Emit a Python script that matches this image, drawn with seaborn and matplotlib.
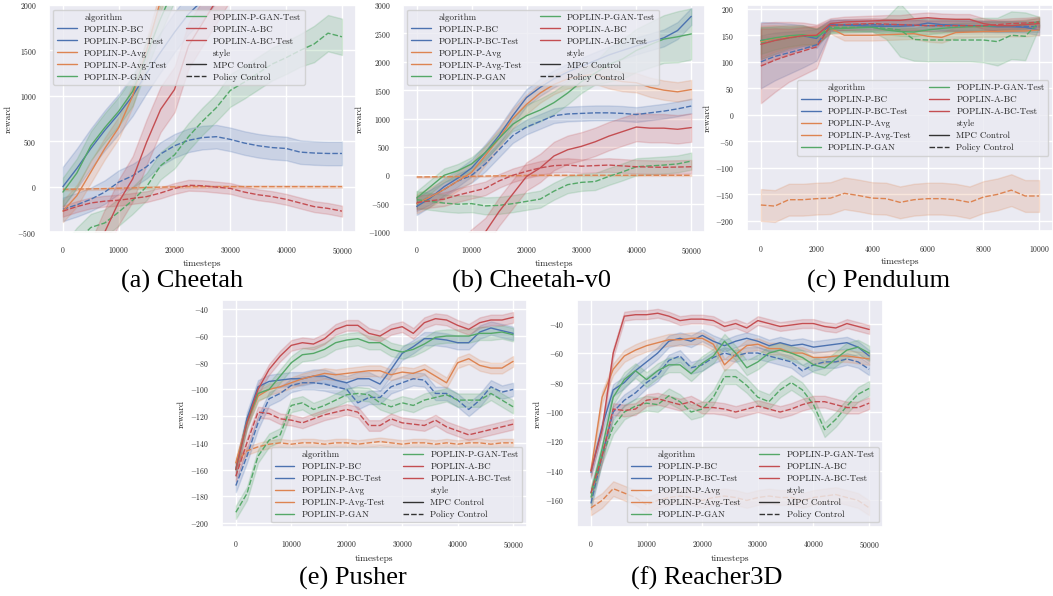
import numpy as np
import pandas as pd
import matplotlib
matplotlib.use('Agg')
import matplotlib.pyplot as plt
import seaborn as sns

ALGOS = ['POPLIN-P-BC', 'POPLIN-P-BC-Test', 'POPLIN-P-Avg', 'POPLIN-P-Avg-Test',
         'POPLIN-P-GAN', 'POPLIN-P-GAN-Test', 'POPLIN-A-BC', 'POPLIN-A-BC-Test']
STYLES = ['MPC Control', 'Policy Control']

# (a) Cheetah
ch_x = list(range(0, 50001, 2500))
ch_bc = [0, 200, 420, 620, 800, 1000, 1250, 1480, 1700, 1900, 2050, 2250, 2450, 2650, 2850, 3000, 3100, 3200, 3300, 3400, 3500]
ch_bc_t = [-250, -200, -140, -60, 50, 120, 220, 360, 450, 510, 540, 550, 520, 480, 450, 430, 420, 380, 370, 365, 365]
ch_avg = [-270, -100, 160, 420, 650, 1000, 1500, 2050, 2500, 2900, 3200, 3400, 3600, 3750, 3900, 4000, 4100, 4200, 4300, 4400, 4500]
ch_avg_t = [-30, -28, -25, -22, -18, -14, -10, -6, -3, 0, 0, 0, 0, 0, 0, 0, 0, 0, 0, 0, 0]
ch_gan = [-60, 150, 450, 650, 830, 1050, 1450, 1850, 2200, 2500, 2750, 2950, 3100, 3250, 3400, 3500, 3600, 3700, 3800, 3900, 4000]
ch_gan_t = [-800, -600, -450, -400, -280, -150, 0, 230, 350, 550, 720, 870, 1060, 1150, 1250, 1350, 1420, 1500, 1570, 1690, 1650]
ch_abc = [-1600, -1200, -850, -500, -170, 85, 490, 850, 1070, 1550, 1800, 2050, 2300, 2500, 2700, 2850, 3000, 3100, 3200, 3300, 3400]
ch_abc_t = [-270, -220, -180, -160, -150, -130, -110, -70, -20, 15, 10, -5, -20, -60, -90, -110, -140, -180, -220, -240, -270]
ch_band = [220, 130, 120, 12, 160, [150] * 12 + [180] * 6 + [200] * 3, 250, 60]

# (b) Cheetah-v0
v0_x = list(range(0, 50001, 2500))
v0_bc = [-550, -400, -200, -50, 130, 400, 700, 1050, 1370, 1550, 1700, 1820, 1920, 2020, 2120, 2200, 2280, 2350, 2420, 2550, 2800]
v0_bc_t = [-500, -380, -250, -100, 0, 200, 450, 700, 850, 950, 1050, 1080, 1090, 1100, 1100, 1090, 1070, 1100, 1130, 1170, 1220]
v0_avg = [-500, -380, -250, -100, 50, 350, 650, 1000, 1250, 1450, 1600, 1700, 1750, 1780, 1700, 1650, 1630, 1550, 1500, 1470, 1510]
v0_avg_t = [-30, -28, -25, -22, -18, -14, -10, -6, -3, 0, 0, 0, 0, 0, 0, 0, 0, 0, 0, 0, 0]
v0_gan = [-400, -200, 0, 80, 200, 400, 650, 900, 1050, 1150, 1280, 1450, 1650, 1800, 1950, 2050, 2200, 2300, 2400, 2440, 2490]
v0_gan_t = [-430, -460, -490, -510, -500, -540, -530, -500, -460, -420, -280, -165, -125, -110, -20, 60, 150, 165, 180, 200, 250]
v0_abc = [-2200, -1950, -1700, -1450, -1200, -1000, -640, -330, -20, 130, 340, 450, 510, 590, 690, 770, 850, 830, 830, 810, 840]
v0_abc_t = [-480, -450, -420, -350, -290, -230, -100, 0, 70, 130, 170, 180, 160, 170, 180, 165, 150, 145, 140, 145, 150]
v0_band = [150, 130, 170, 12, [120] * 8 + [200] * 6 + [300, 350, 380, 400, 420, 450, 450], 150, 250, 120]

# (c) Pendulum
pe_x = list(range(0, 10001, 500))
pe_bc = [140, 144, 147, 149, 144, 170, 169, 168, 167, 167, 167, 168, 173, 170, 169, 168, 167, 166, 166, 165, 160]
pe_bc_t = [100, 110, 117, 124, 132, 168, 170, 170, 170, 170, 170, 169, 168, 168, 168, 168, 167, 167, 167, 167, 166]
pe_avg = [138, 144, 147, 150, 150, 163, 150, 150, 150, 151, 152, 153, 148, 146, 155, 156, 157, 157, 158, 158, 160]
pe_avg_t = [-170, -172, -160, -160, -158, -157, -148, -152, -157, -158, -165, -160, -158, -158, -160, -165, -155, -150, -142, -153, -153]
pe_gan = [140, 145, 149, 151, 147, 162, 163, 164, 165, 160, 157, 156, 160, 163, 165, 166, 167, 168, 168, 170, 176]
pe_gan_t = [135, 140, 145, 148, 148, 165, 165, 165, 165, 163, 160, 142, 141, 141, 141, 141, 141, 138, 150, 148, 175]
pe_abc = [133, 140, 145, 149, 150, 172, 175, 176, 177, 178, 178, 181, 183, 181, 180, 180, 172, 168, 168, 170, 172]
pe_abc_t = [92, 103, 112, 120, 128, 168, 170, 171, 172, 171, 170, 169, 168, 168, 168, 168, 168, 170, 172, 173, 175]
pe_band = [
    [35, 30, 25, 20, 18] + [10] * 16,
    [50, 45, 40, 35, 30] + [10] * 16,
    [30, 25, 20, 18, 15] + [10] * 16,
    [30] * 21,
    [25, 22, 20, 18, 15] + [8] * 16,
    [30, 25, 20, 18, 15, 10, 8, 8, 8, 20, 50, 40, 40, 40, 40, 40, 42, 45, 45, 45, 10],
    [40, 35, 30, 25, 20] + [10] * 16,
    [70, 60, 50, 45, 40] + [10] * 16,
]

# (e) Pusher
pu_x = list(range(0, 50001, 2000))
pu_bc = [-160, -122, -98, -94, -93, -92, -92, -90, -90, -93, -95, -92, -92, -96, -85, -73, -68, -62, -62, -63, -65, -65, -57, -54, -56, -58]
pu_bc_t = [-172, -150, -125, -107, -103, -97, -95, -95, -96, -98, -100, -110, -106, -106, -98, -95, -92, -93, -103, -103, -108, -115, -108, -98, -102, -100]
pu_avg = [-155, -125, -105, -100, -98, -95, -92, -90, -88, -89, -88, -87, -86, -86, -89, -87, -88, -85, -90, -95, -80, -77, -82, -84, -84, -79]
pu_avg_t = [-155, -146, -143, -141, -140, -141, -140, -140, -141, -140, -140, -141, -140, -139, -140, -141, -140, -140, -141, -140, -141, -140, -140, -141, -140, -140]
pu_gan = [-160, -125, -103, -100, -90, -80, -74, -73, -70, -65, -63, -62, -65, -65, -70, -72, -70, -66, -61, -60, -60, -60, -58, -58, -57, -59]
pu_gan_t = [-192, -178, -150, -138, -134, -112, -110, -115, -112, -108, -104, -103, -104, -110, -113, -110, -112, -108, -106, -104, -108, -108, -108, -103, -108, -113]
pu_abc = [-160, -125, -100, -85, -75, -67, -65, -66, -62, -55, -52, -52, -58, -60, -55, -53, -58, -50, -47, -48, -52, -55, -50, -48, -48, -46]
pu_abc_t = [-165, -140, -117, -118, -122, -123, -125, -122, -119, -117, -115, -117, -127, -127, -122, -125, -126, -127, -123, -128, -131, -134, -132, -130, -128, -126]
pu_band = [5, 5, 4, 3, 5, 5, 4, 4]

# (f) Reacher3D
re_x = list(range(0, 50001, 2000))
re_bc = [-141, -110, -85, -80, -72, -66, -60, -52, -50, -52, -48, -52, -55, -52, -50, -52, -55, -53, -55, -54, -56, -55, -54, -53, -56, -62]
re_bc_t = [-162, -130, -100, -92, -87, -80, -75, -65, -62, -70, -68, -63, -60, -62, -60, -60, -62, -64, -66, -72, -68, -66, -66, -64, -66, -71]
re_avg = [-140, -90, -71, -62, -58, -55, -53, -51, -51, -50, -50, -54, -68, -61, -55, -54, -57, -57, -60, -60, -63, -63, -62, -62, -63, -64]
re_avg_t = [-165, -160, -152, -155, -158, -163, -160, -158, -157, -158, -160, -158, -157, -158, -160, -158, -157, -158, -158, -160, -158, -157, -156, -158, -160, -165]
re_gan = [-155, -125, -90, -78, -72, -78, -72, -68, -68, -74, -67, -62, -52, -60, -70, -66, -60, -58, -60, -63, -68, -70, -64, -58, -56, -60]
re_gan_t = [-158, -130, -110, -100, -96, -94, -95, -89, -93, -100, -98, -90, -76, -76, -82, -90, -93, -85, -80, -85, -95, -112, -105, -96, -88, -84]
re_abc = [-140, -112, -60, -35, -34, -34, -33, -35, -38, -37, -37, -38, -42, -40, -43, -38, -40, -42, -41, -40, -40, -42, -43, -40, -42, -44]
re_abc_t = [-155, -130, -98, -99, -98, -92, -91, -93, -95, -93, -97, -97, -98, -100, -98, -96, -98, -100, -98, -95, -93, -93, -95, -97, -97, -94]
re_band = [4, 4, 4, 5, 5, 5, 3, 4]

blue, orange, green, red = sns.color_palette('deep')[:4]
pal = dict(zip(ALGOS, [blue, blue, orange, orange, green, green, red, red]))


def make_frame(x, curves, bands):
    # two rows per point (mean -/+ half band) so seaborn draws the band itself
    rows = []
    for algo, ys, band in zip(ALGOS, curves, bands):
        ys = np.asarray(ys, dtype=float)
        b = np.broadcast_to(np.asarray(band, dtype=float), ys.shape)
        style = 'Policy Control' if algo.endswith('Test') else 'MPC Control'
        for xi, yi, bi in zip(x, ys, b):
            rows.append((xi, yi - bi, algo, style))
            rows.append((xi, yi + bi, algo, style))
    return pd.DataFrame(rows, columns=['timesteps', 'reward', 'algorithm', 'style'])


sns.set_theme(style='darkgrid')
plt.rcParams['font.family'] = 'serif'
plt.rcParams['font.serif'] = ['cmr10', 'DejaVu Serif']
plt.rcParams['axes.formatter.use_mathtext'] = True
plt.rcParams['mathtext.fontset'] = 'cm'

fig = plt.figure(figsize=(10.53, 5.96), dpi=100)

panels = [
    ([0.0465, 0.6107, 0.2915, 0.3809], ch_x, [ch_bc, ch_bc_t, ch_avg, ch_avg_t, ch_gan, ch_gan_t, ch_abc, ch_abc_t],
     ch_band, (-2500, 52500), (-500, 2000), np.arange(-500, 2001, 500), 'upper left', '(a) Cheetah', (182, 281)),
    ([0.3827, 0.6107, 0.2868, 0.3809], v0_x, [v0_bc, v0_bc_t, v0_avg, v0_avg_t, v0_gan, v0_gan_t, v0_abc, v0_abc_t],
     v0_band, (-2500, 52500), (-1000, 3000), np.arange(-1000, 3001, 500), 'upper left', '(b) Cheetah-v0', (531, 281)),
    ([0.7094, 0.6124, 0.2906, 0.3792], pe_x, [pe_bc, pe_bc_t, pe_avg, pe_avg_t, pe_gan, pe_gan_t, pe_abc, pe_abc_t],
     pe_band, (-500, 10500), (-219, 207), np.arange(-200, 201, 50), 'center right', '(c) Pendulum', (879, 281)),
    ([0.2108, 0.1158, 0.2896, 0.3809], pu_x, [pu_bc, pu_bc_t, pu_avg, pu_avg_t, pu_gan, pu_gan_t, pu_abc, pu_abc_t],
     pu_band, (-2500, 52500), (-203, -33), np.arange(-200, -39, 20), 'lower right', '(e) Pusher', (353, 578)),
    ([0.548, 0.1158, 0.2906, 0.3809], re_x, [re_bc, re_bc_t, re_avg, re_avg_t, re_gan, re_gan_t, re_abc, re_abc_t],
     re_band, (-2500, 52500), (-178, -24), np.arange(-160, -39, 20), 'lower right', '(f) Reacher3D', (707, 578)),
]

for rect, x, curves, bands, xlim, ylim, yticks, loc, caption, cpos in panels:
    ax = fig.add_axes(rect)
    df = make_frame(x, curves, bands)
    sns.lineplot(data=df, x='timesteps', y='reward', hue='algorithm', style='style',
                 hue_order=ALGOS, style_order=STYLES, palette=pal,
                 errorbar=('pi', 100), linewidth=1.0, ax=ax)
    ax.set_xlim(*xlim)
    ax.set_ylim(*ylim)
    ax.set_yticks(yticks)
    ax.tick_params(labelsize=5.5, pad=3)
    ax.set_xlabel('timesteps', fontsize=6.8, labelpad=3)
    ax.set_ylabel('reward', fontsize=6.8, labelpad=3)
    sns.move_legend(ax, loc, ncol=2, fontsize=6.5, title=None, frameon=True,
                    handlelength=2.2, columnspacing=2.0, labelspacing=0.4)
    fig.text(cpos[0] / 1053, 1 - cpos[1] / 596, caption, ha='center', va='center',
             fontsize=19, family='Liberation Serif', color='black')

fig.savefig('out.png', dpi=100)
